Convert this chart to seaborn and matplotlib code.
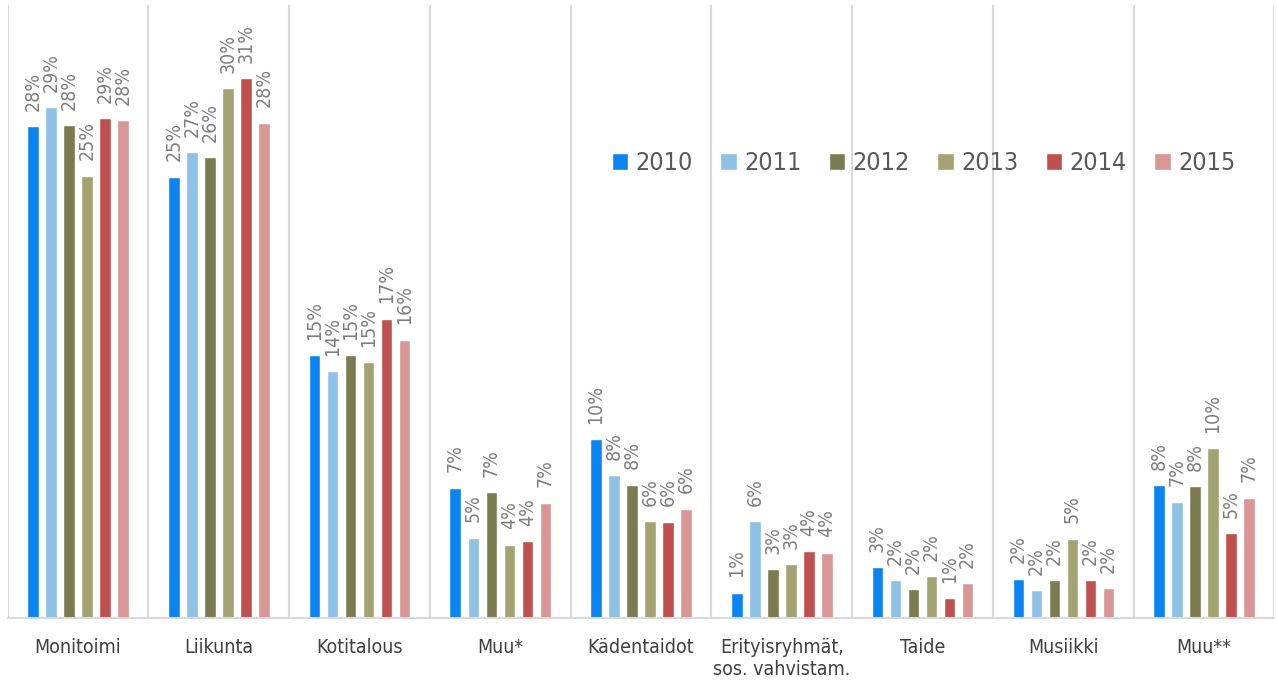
import pandas as pd
import matplotlib
matplotlib.use("Agg")
import matplotlib.pyplot as plt
import seaborn as sns

categories = ['Monitoimi', 'Liikunta', 'Kotitalous', 'Muu*', 'Kädentaidot',
              'Erityisryhmät,\nsos. vahvistam.', 'Taide', 'Musiikki', 'Muu**']
years = ['2010', '2011', '2012', '2013', '2014', '2015']

v2010 = [28.06, 25.2, 15.0, 7.45, 10.24, 1.47, 2.9, 2.27, 7.58]
v2011 = [29.17, 26.6, 14.1, 4.6, 8.16, 5.55, 2.18, 1.59, 6.65]
v2012 = [28.14, 26.3, 15.0, 7.2, 7.62, 2.81, 1.66, 2.16, 7.52]
v2013 = [25.25, 30.26, 14.6, 4.2, 5.54, 3.11, 2.41, 4.55, 9.7]
v2014 = [28.55, 30.8, 17.1, 4.4, 5.52, 3.84, 1.15, 2.16, 4.85]
v2015 = [28.42, 28.27, 15.9, 6.6, 6.25, 3.74, 2.0, 1.72, 6.88]

colors = ['#0A84F2', '#8DC1E5', '#7B7B50', '#A3A372', '#C0504D', '#DA9694']

series = [v2010, v2011, v2012, v2013, v2014, v2015]
rows = []
for y, vals in zip(years, series):
    for c, v in zip(categories, vals):
        rows.append({'category': c, 'year': y, 'value': v})
df = pd.DataFrame(rows)

sns.set_theme(style='white')
plt.rcParams['font.family'] = ['DejaVu Sans']
plt.rcParams['font.stretch'] = 'condensed'

fig, ax = plt.subplots(figsize=(12.77, 6.87), dpi=100)
fig.subplots_adjust(left=0.006, right=0.998, top=0.993, bottom=0.1)

sns.barplot(data=df, x='category', y='value', hue='year', order=categories,
            hue_order=years, palette=colors, width=0.768, gap=0.36,
            saturation=1, ax=ax, errorbar=None)

for cont, vals in zip(ax.containers, series):
    ax.bar_label(cont, labels=[f'{v:.0f}%' for v in vals], rotation=90,
                 padding=11, color='#7F7F7F', fontsize=14)

ax.set_ylim(0, 35)
ax.set_xlim(-0.5, len(categories) - 0.5)
for i in range(len(categories) + 1):
    ax.axvline(i - 0.5, color='#D9D9D9', lw=1.5, zorder=0)
ax.set_yticks([])
ax.set_xlabel('')
ax.set_ylabel('')
for s in ['top', 'left', 'right']:
    ax.spines[s].set_visible(False)
ax.spines['bottom'].set_color('#D9D9D9')
ax.spines['bottom'].set_linewidth(1.5)
ax.tick_params(axis='x', length=0, pad=14, labelsize=14, labelcolor='#404040')

ax.legend(loc='center', bbox_to_anchor=(0.723, 0.742), ncol=6, frameon=False,
          fontsize=18, handlelength=0.65, handleheight=0.65, handletextpad=0.3,
          columnspacing=1.1, labelcolor='#595959')

fig.savefig('out.png', dpi=100)
